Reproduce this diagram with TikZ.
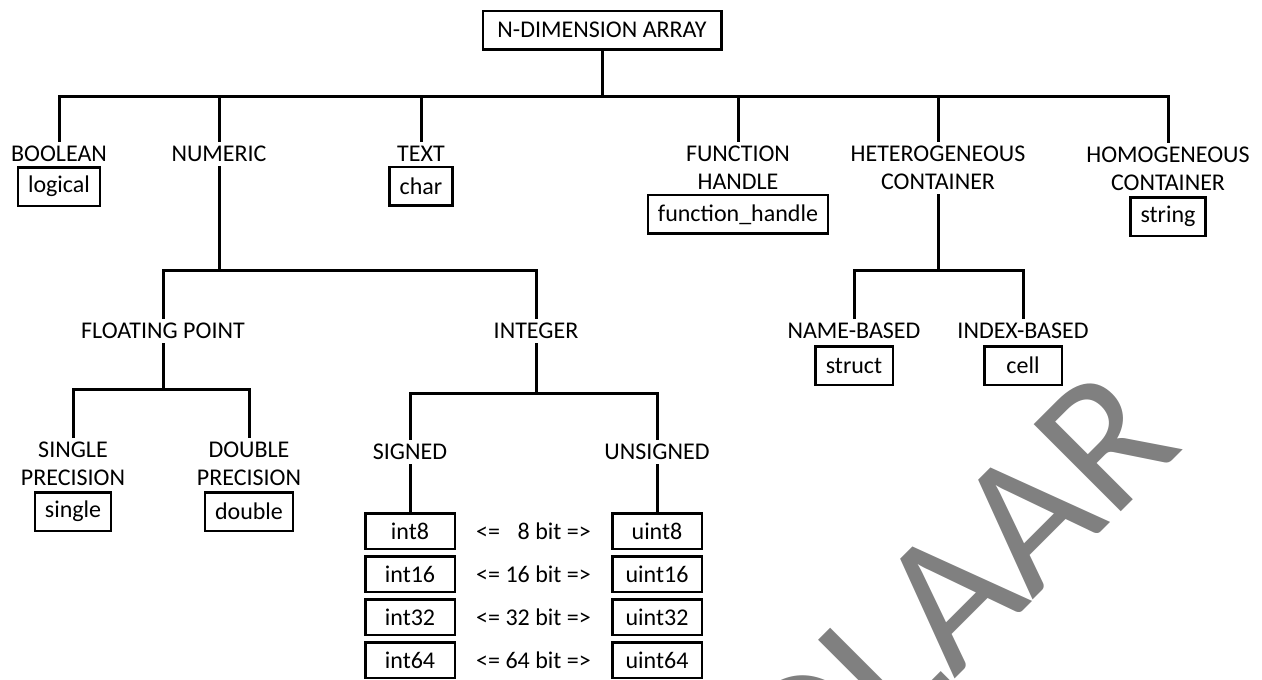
\documentclass[tikz,border=0pt]{standalone}
\usepackage{fontspec}
\setmainfont{Carlito}
\newfontfamily\wmfont[Kerning=Off]{Carlito}
\usetikzlibrary{positioning}
\definecolor{wmgray}{HTML}{808080}

\begin{document}
\begin{tikzpicture}[x=1pt, y=-1pt, every node/.style={font=\fontsize{24}{28}\selectfont}, tree/.style={line width=3pt}, lbl/.style={align=center, inner xsep=2pt, inner ysep=4pt}, leaf/.style={draw, line width=2.5pt, minimum height=38.5pt, inner xsep=10pt}, ibox/.style={leaf, minimum width=89.5pt, minimum height=35.5pt}]
	\useasboundingbox (0,0) rectangle (1262,680);
	\begin{scope}
		\clip (0,0) rectangle (1262,680);
		\node[wmgray, font=\wmfont\fontsize{192}{192}\selectfont, rotate=45, anchor=base] (mark) at (996,637) {OLAAR};
	\end{scope}
	% top level
	\node[leaf, minimum width=238.5pt] (root) at (602,30) {N-DIMENSION ARRAY};
	\coordinate (rootbar) at (602,96);
	\node[lbl] (bool) at (59,154) {BOOLEAN};
	\node[lbl] (num) at (219,154) {NUMERIC};
	\node[lbl] (txt) at (421,154) {TEXT};
	\node[lbl] (fh) at (738,168) {FUNCTION\\HANDLE};
	\node[lbl] (het) at (938,168) {HETEROGENEOUS\\CONTAINER};
	\node[lbl] (hom) at (1168,169) {HOMOGENEOUS\\CONTAINER};
	\node[leaf, below=0pt of bool] (logical) {logical};
	\node[leaf, below=0pt of txt] (char) {char};
	\node[leaf, below=0pt of fh] (fhandle) {function\_handle};
	\node[leaf, below=1pt of hom] (string) {string};
	\draw[tree] (root.south) -- (rootbar);
	\foreach \n in {bool, num, txt, fh, het, hom} {\draw[tree] (rootbar) -| (\n.north);}
	% numeric
	\coordinate (numbar) at (219,270);
	\node[lbl] (fp) at (163,331) {FLOATING POINT};
	\node[lbl] (int) at (536,331) {INTEGER};
	\draw[tree] (num.south) -- (numbar) -| (fp.north);
	\draw[tree] (numbar) -| (int.north);
	\coordinate (fpbar) at (163,389);
	\node[lbl] (sp) at (73,464) {SINGLE\\PRECISION};
	\node[lbl] (dp) at (249,464) {DOUBLE\\PRECISION};
	\node[leaf, below=1pt of sp] (single) {single};
	\node[leaf, below=1pt of dp] (double) {double};
	\draw[tree] (fp.south) -- (fpbar) -| (sp.north);
	\draw[tree] (fpbar) -| (dp.north);
	\coordinate (intbar) at (536,393);
	\node[lbl] (sgn) at (410,452) {SIGNED};
	\node[lbl] (uns) at (657,452) {UNSIGNED};
	\draw[tree] (int.south) -- (intbar) -| (sgn.north);
	\draw[tree] (intbar) -| (uns.north);
	\foreach \bits/\shown [count=\i] in {8/{\phantom{1}8}, 16/16, 32/32, 64/64} {
		\node[ibox] (i\bits) at (410,{531+43*(\i-1)}) {int\bits};
		\node[ibox] (u\bits) at (657,{531+43*(\i-1)}) {uint\bits};
		\path (i\bits) -- node (w\bits) {<= \shown{} bit =>} (u\bits);
	}
	\draw[tree] (sgn.south) -- (i8.north);
	\draw[tree] (uns.south) -- (u8.north);
	% containers
	\coordinate (hetbar) at (938,270);
	\node[lbl] (nb) at (854,331) {NAME-BASED};
	\node[lbl] (ib) at (1023,331) {INDEX-BASED};
	\node[leaf, below=2pt of nb, minimum width=77.5pt] (struct) {struct};
	\node[leaf, below=2pt of ib, minimum width=77.5pt] (cell) {cell};
	\draw[tree] (het.south) -- (hetbar) -| (nb.north);
	\draw[tree] (hetbar) -| (ib.north);
\end{tikzpicture}
\end{document}
